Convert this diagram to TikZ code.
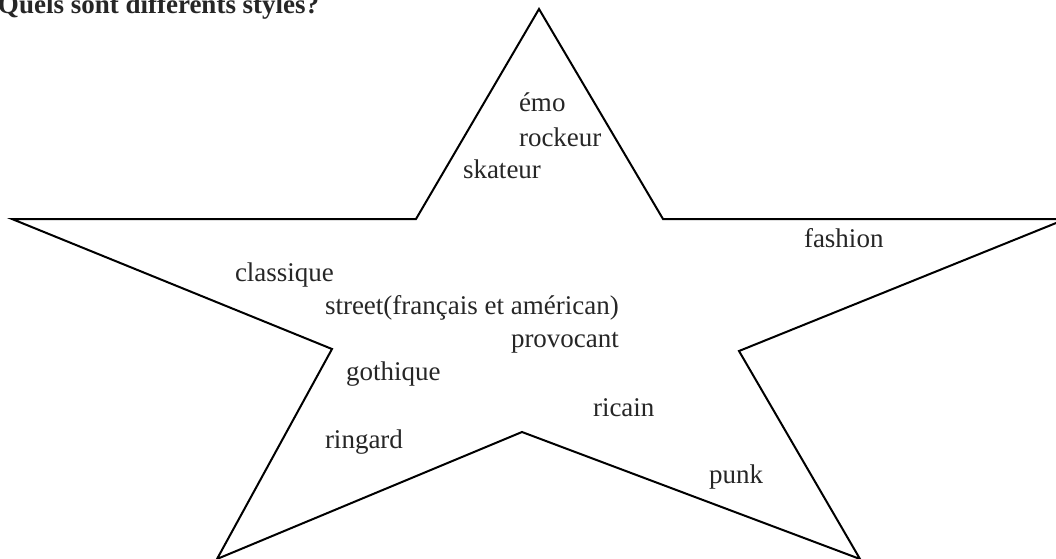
\documentclass[tikz,border=0pt]{standalone}
\usepackage{fontspec}
\setmainfont{Liberation Serif}
\definecolor{inkgray}{HTML}{262626}

\begin{document}
\begin{tikzpicture}
  [x=1pt, y=-1pt, line width=2pt, line join=miter,
   word/.style={anchor=base west, inner sep=0pt, text=inkgray, font=\fontsize{27}{32}\selectfont},
   heading/.style={word, font=\bfseries\fontsize{27}{32}\selectfont}]

  \useasboundingbox (0,0) rectangle (1056,558);

  %Draw the question
  \node[heading] (question) at (-3,13) {Quels sont différents styles?};

  %Draw the star
  \draw (539,9) -- (663,219) -- (1066,219) -- (739,351) -- (860,559)
     -- (522,432) -- (217,559) -- (332,349) -- (12,219) -- (416,219) -- cycle;

  %Draw the styles
  \foreach \name/\x/\y/\txt in {emo/518/111/{émo}, rockeur/518/146/{rockeur},
      skateur/462/178/{skateur}, fashion/803/247/{fashion},
      classique/234/281/{classique}, street/324/314/{street(français et américan)},
      provocant/510/347/{provocant}, gothique/345/380/{gothique},
      ricain/592/416/{ricain}, ringard/324/448/{ringard}, punk/708/483/{punk}}
    \node[word] (\name) at (\x,\y) {\txt};
\end{tikzpicture}
\end{document}
